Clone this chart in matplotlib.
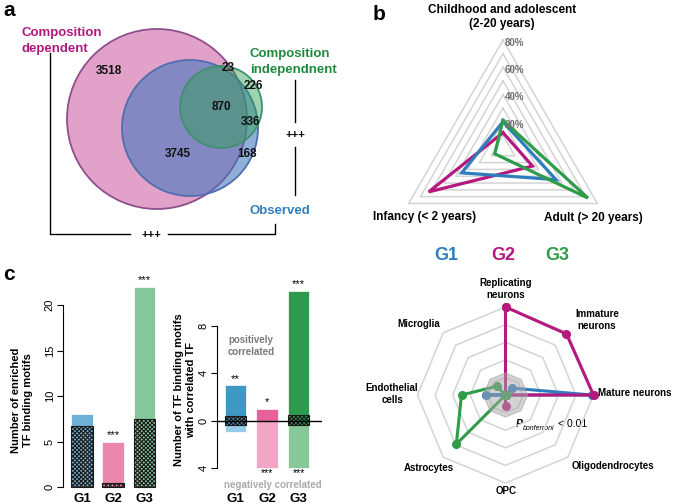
import numpy as np
import matplotlib
matplotlib.use('Agg')
import matplotlib.pyplot as plt
from matplotlib.patches import Circle

plt.rcParams['font.family'] = ['Liberation Sans', 'DejaVu Sans']
plt.rcParams['hatch.linewidth'] = 0.8

# ---------------- data ----------------
venn_counts = [3518, 23, 226, 870, 336, 3745, 168]

age_axes = ['Childhood and adolescent\n(2-20 years)', 'Infancy (< 2 years)', 'Adult (> 20 years)']
age_G1 = [20, 35, 45]
age_G2 = [12, 63, 25]
age_G3 = [21, 7, 72]
age_ticks = [20, 40, 60, 80]

cell_types = ['Replicating\nneurons', 'Immature\nneurons', 'Mature neurons', 'Oligodendrocytes',
              'OPC', 'Astrocytes', 'Endothelial\ncells', 'Microglia']
cell_G1 = [0, 0.11, 0.98, 0, 0, 0, 0.22, 0]
cell_G2 = [1.0, 0.98, 1.0, 0, 0.12, 0, 0, 0]
cell_G3 = [0, 0, 0, 0, 0, 0.79, 0.5, 0.14]
cell_threshold = 0.25

groups = ['G1', 'G2', 'G3']
enriched_total = [8, 5, 22]
enriched_hatched = [6.7, 0.45, 7.5]
enriched_stars = ['', '***', '***']
pos_corr = [3, 1, 11]
neg_corr = [-1, -4, -4]
pos_stars = ['**', '*', '***']
neg_stars = ['', '***', '***']
overlap_low = [-0.35, 0, -0.35]
overlap_high = [0.35, 0, 0.45]

# ---------------- styles ----------------
C_BLUE = '#2f7dbd'
C_MAG = '#b5187f'
C_GREEN = '#2e9c48'
W, H = 675, 504

fig = plt.figure(figsize=(6.75, 5.04), dpi=100)
ov = fig.add_axes([0, 0, 1, 1])
ov.set_xlim(0, W)
ov.set_ylim(H, 0)
ov.axis('off')


def rect(cx, cy, half_w, half_h):
    return [(cx - half_w) / W, (H - cy - half_h) / H, 2 * half_w / W, 2 * half_h / H]

# ---------------- panel a: Venn ----------------
ov.add_patch(Circle((157, 119), 90, facecolor=(196/255, 68/255, 148/255, 0.5),
                    edgecolor='#8e4f8e', lw=1.3))
ov.add_patch(Circle((190, 128), 68, facecolor=(63/255, 118/255, 190/255, 0.58),
                    edgecolor='#4f6fae', lw=1.3))
ov.add_patch(Circle((221, 107), 41, facecolor=(45/255, 160/255, 80/255, 0.45),
                    edgecolor='#3f9070', lw=1.3))
venn_pos = [(109, 71), (228, 68), (253, 86), (221, 107), (250, 122), (178, 154), (247, 154)]
for (x, y), n in zip(venn_pos, venn_counts):
    ov.text(x, y, str(n), ha='center', va='center', fontsize=8.5, fontweight='bold', color='#111111')

ov.text(3, 10, 'a', fontsize=15, fontweight='bold', va='center', ha='left')
ov.text(22, 41, 'Composition\ndependent', fontsize=9.5, fontweight='bold', color='#b0197e',
        ha='left', va='center', linespacing=1.35)
ov.text(250, 62, 'Composition\nindependnent', fontsize=9.5, fontweight='bold', color='#1d8a3e',
        ha='left', va='center', linespacing=1.35)
ov.text(249, 211, 'Observed', fontsize=9.5, fontweight='bold', color='#2f7fbf', ha='left', va='center')

# brackets
ov.plot([50, 50, 130], [53, 234, 234], color='black', lw=1)
ov.plot([168, 275, 275], [234, 234, 224], color='black', lw=1)
ov.text(151, 235, '+++', ha='center', va='center', fontsize=8, fontweight='bold')
ov.plot([295, 295], [80, 122], color='black', lw=1)
ov.plot([295, 295], [147, 195], color='black', lw=1)
ov.text(295, 135, '+++', ha='center', va='center', fontsize=8, fontweight='bold')

# ---------------- panel b: triangle radar ----------------
axb = fig.add_axes(rect(503, 149, 109, 109), projection='polar')
axb.set_ylim(0, 80)
axb.grid(False)
axb.spines['polar'].set_visible(False)
axb.set_xticks([])
axb.set_yticks([])
axb.patch.set_visible(False)
th3 = np.array([np.pi / 2, 7 * np.pi / 6, 11 * np.pi / 6])
th3c = np.append(th3, th3[0])
for r in range(10, 81, 10):
    axb.plot(th3c, [r] * 4, color='#d4d4d4', lw=1.1, clip_on=False, zorder=1)
for vals, c in [(age_G2, C_MAG), (age_G1, C_BLUE), (age_G3, C_GREEN)]:
    v = list(vals) + [vals[0]]
    axb.plot(th3c, v, color=c, lw=2.3, clip_on=False, zorder=3, solid_joinstyle='miter')
for t in age_ticks:
    axb.annotate(f'{t}%', (np.pi / 2, t), xytext=(1, -2), textcoords='offset points',
                 ha='left', va='center', fontsize=7, fontweight='bold', color='#707070',
                 annotation_clip=False, zorder=4)

ov.text(373, 15, 'b', fontsize=15, fontweight='bold', va='center', ha='left')
ov.text(502, 17, age_axes[0], ha='center', va='center', fontsize=8.5, fontweight='bold', linespacing=1.25)
ov.text(425, 217, age_axes[1], ha='center', va='center', fontsize=8.5, fontweight='bold')
ov.text(593, 218, age_axes[2], ha='center', va='center', fontsize=8.5, fontweight='bold')

# ---------------- panel d: octagon radar ----------------
axd = fig.add_axes(rect(505.5, 395, 88, 88), projection='polar')
axd.set_ylim(0, 1)
axd.grid(False)
axd.spines['polar'].set_visible(False)
axd.set_xticks([])
axd.set_yticks([])
axd.patch.set_visible(False)
th8 = np.pi / 2 - np.arange(8) * np.pi / 4
th8c = np.append(th8, th8[0])
for r in [0.2, 0.4, 0.6, 0.8, 1.0]:
    axd.plot(th8c, [r] * 9, color='#d4d4d4', lw=1.1, clip_on=False, zorder=1)
for vals, c in [(cell_G1, C_BLUE), (cell_G2, C_MAG), (cell_G3, C_GREEN)]:
    v = list(vals) + [vals[0]]
    axd.plot(th8c, v, color=c, lw=2.2, marker='o', ms=5.5, clip_on=False, zorder=3)
axd.fill(th8c, [cell_threshold] * 9, facecolor='#a8a8a8', alpha=0.5, edgecolor='#a0a0a0',
         lw=1, zorder=4)

ov.text(446, 256, 'G1', fontsize=13, fontweight='bold', color=C_BLUE, ha='center', va='center')
ov.text(503, 256, 'G2', fontsize=13, fontweight='bold', color=C_MAG, ha='center', va='center')
ov.text(557, 256, 'G3', fontsize=13, fontweight='bold', color=C_GREEN, ha='center', va='center')

lab_pos = [(506, 289, 'center'), (597, 320, 'center'), (598, 393, 'left'), (613, 466, 'center'),
           (506, 491, 'center'), (429, 468, 'center'), (392, 394, 'center'), (419, 324, 'center')]
for (x, y, ha), lab in zip(lab_pos, cell_types):
    ov.text(x, y, lab, ha=ha, va='center', fontsize=7, fontweight='bold', linespacing=1.2)

ov.text(519, 424, 'P', fontsize=7.5, style='italic', fontweight='bold', ha='center', va='center')
ov.text(523, 428.5, 'bonferroni', fontsize=5, style='italic', ha='left', va='center')
ov.text(558, 424, '< 0.01', fontsize=7.5, ha='left', va='center')

# ---------------- panel c: bars ----------------
ov.text(3, 275, 'c', fontsize=15, fontweight='bold', va='center', ha='left')
x = np.arange(3)
light = ['#6fb0d6', '#ec86ac', '#84c79a']
dark = ['#3f97c4', '#e6639a', '#2f9a4f']
neg_light = ['#97cae4', '#f0a6c4', '#86c897']
HATCH = 'xxxxxxxx'

# left chart
ax1 = fig.add_axes([63 / W, (H - 490) / H, 102 / W, 220 / H])
ax1.set_xlim(-0.608, 2.656)
ax1.set_ylim(-3 / 9.1, (487 - 270) / 9.1)
ax1.bar(x, enriched_total, 0.69, color=light, edgecolor='white', lw=0.5, zorder=2)
ax1.bar(x, enriched_hatched, 0.69, color=light, edgecolor='#1a1a1a', hatch=HATCH, lw=0.8, zorder=3)
for xi, v, s in zip(x, enriched_total, enriched_stars):
    if s:
        ax1.annotate(s, (xi, v), xytext=(0, 1), textcoords='offset points', ha='center',
                     va='bottom', fontsize=8, annotation_clip=False)
for s in ['top', 'right', 'bottom']:
    ax1.spines[s].set_visible(False)
ax1.spines['left'].set_bounds(0, 20)
ax1.spines['left'].set_linewidth(0.8)
ax1.set_yticks([0, 5, 10, 15, 20])
ax1.tick_params(axis='y', length=4, width=0.8, labelsize=8, pad=2, labelrotation=90)
for lab in ax1.get_yticklabels():
    lab.set_va('center')
ax1.set_xticks(x)
ax1.set_xticklabels(groups, fontsize=9.5, fontweight='bold')
ax1.tick_params(axis='x', length=0, pad=2)
ax1.patch.set_visible(False)
ov.text(22, 400, 'Number of enriched\nTF binding motifs', rotation=90, ha='center', va='center',
        fontsize=8, fontweight='bold', linespacing=1.3)

# right chart
ax2 = fig.add_axes([217 / W, (H - 490) / H, 105 / W, 210 / H])
ax2.set_xlim(-0.587, 2.746)
ax2.set_ylim(-(490 - 420.5) / 11.8, (420.5 - 280) / 11.8)
ax2.bar(x, pos_corr, 0.68, color=dark, edgecolor='white', lw=0.5, zorder=2)
ax2.bar(x, neg_corr, 0.68, color=neg_light, edgecolor='white', lw=0.5, zorder=2)
for xi, lo, hi, c in zip(x, overlap_low, overlap_high, dark):
    if hi > lo:
        ax2.bar(xi, hi - lo, 0.68, bottom=lo, color=c, edgecolor='#1a1a1a', hatch=HATCH,
                lw=0.8, zorder=3)
ax2.axhline(0, color='black', lw=1, zorder=4)
for xi, v, s in zip(x, pos_corr, pos_stars):
    ax2.annotate(s, (xi, v), xytext=(0, 1), textcoords='offset points', ha='center',
                 va='bottom', fontsize=8, annotation_clip=False)
for xi, v, s in zip(x, neg_corr, neg_stars):
    if s:
        ax2.annotate(s, (xi, v), xytext=(0, 0), textcoords='offset points', ha='center',
                     va='top', fontsize=7.5, annotation_clip=False)
for s in ['top', 'right', 'bottom']:
    ax2.spines[s].set_visible(False)
ax2.spines['left'].set_bounds(-4, 8)
ax2.spines['left'].set_linewidth(0.8)
ax2.set_yticks([-4, 0, 4, 8])
ax2.set_yticklabels(['4', '0', '4', '8'])
ax2.tick_params(axis='y', length=4, width=0.8, labelsize=8, pad=2, labelrotation=90)
for lab in ax2.get_yticklabels():
    lab.set_va('center')
ax2.set_xticks(x)
ax2.set_xticklabels(groups, fontsize=9.5, fontweight='bold')
ax2.tick_params(axis='x', length=0, pad=2)
ax2.patch.set_visible(False)
ov.text(185, 390, 'Number of TF binding motifs\nwith correlated TF', rotation=90, ha='center',
        va='center', fontsize=8, fontweight='bold', linespacing=1.3)
ov.text(251, 346, 'positively\ncorrelated', ha='center', va='center', fontsize=7, fontweight='bold',
        color='#7a7a7a', linespacing=1.3)
ov.text(273, 485, 'negatively correlated', ha='center', va='center', fontsize=7, fontweight='bold',
        color='#ababab')

fig.savefig('out.png', dpi=100)
